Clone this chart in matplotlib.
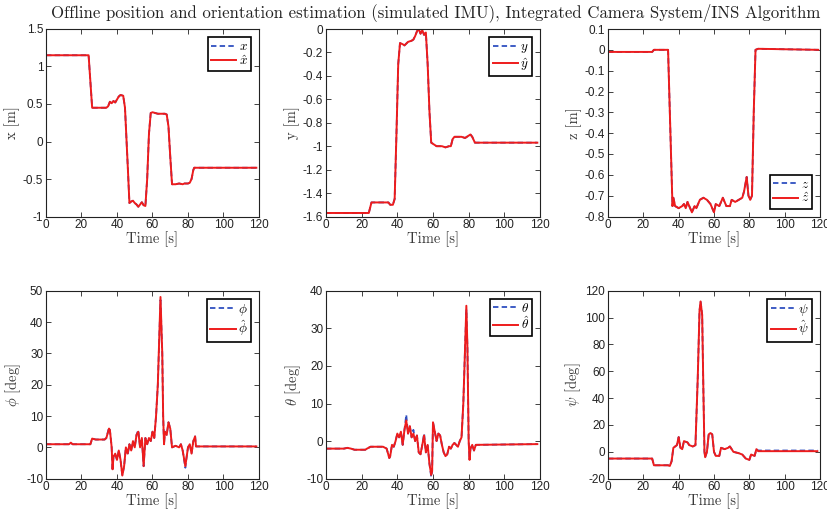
import matplotlib
matplotlib.use("Agg")
import matplotlib.pyplot as plt

plt.rcParams['mathtext.fontset'] = 'cm'
plt.rcParams['axes.unicode_minus'] = True

TITLE = "Offline position and orientation estimation (simulated IMU), Integrated Camera System/INS Algorithm"
XLABEL = "Time [s]"
XTICKS = [0, 20, 40, 60, 80, 100, 120]

# x position
x_t = [0,24,25,26,34,35,36,37,38,39,40,41,42,43.5,44.5,46,47,48,49,50,51,52,53,54,55,56,57,58,59,60,63,65,67,68,69,70,71,73,75,77,78,80,81,82,83,83.5,118.5]
x_est = [1.15,1.15,0.8,0.45,0.45,0.47,0.53,0.51,0.54,0.52,0.56,0.60,0.62,0.61,0.45,-0.3,-0.82,-0.80,-0.79,-0.82,-0.84,-0.87,-0.84,-0.81,-0.85,-0.86,-0.5,0.1,0.38,0.39,0.37,0.37,0.37,0.36,0.2,-0.2,-0.57,-0.57,-0.56,-0.57,-0.56,-0.56,-0.55,-0.5,-0.38,-0.35,-0.35]
x_true = [1.15,1.15,0.8,0.45,0.45,0.47,0.53,0.51,0.54,0.52,0.56,0.60,0.62,0.61,0.45,-0.3,-0.82,-0.80,-0.79,-0.82,-0.84,-0.87,-0.84,-0.81,-0.85,-0.86,-0.5,0.1,0.38,0.39,0.37,0.37,0.37,0.36,0.2,-0.2,-0.57,-0.57,-0.56,-0.57,-0.56,-0.56,-0.55,-0.5,-0.38,-0.35,-0.35]

# y position
y_t = [0,24,25.5,35,36,37.5,38.5,39.5,40.5,41.5,43,44,46,48,49,50,51,52,53,54,55,56,57,58,59,60,62,65,67,69,70,71,72,76,78,80,81,82,83.5,118.5]
y_est = [-1.57,-1.57,-1.48,-1.48,-1.50,-1.50,-1.45,-0.9,-0.3,-0.12,-0.13,-0.14,-0.11,-0.10,-0.09,-0.06,-0.02,0.0,-0.04,-0.01,-0.05,-0.03,-0.3,-0.7,-0.97,-0.98,-1.0,-1.0,-1.01,-1.0,-1.0,-0.94,-0.92,-0.92,-0.93,-0.91,-0.90,-0.92,-0.97,-0.97]
y_true = [-1.57,-1.57,-1.48,-1.48,-1.50,-1.50,-1.45,-0.9,-0.3,-0.12,-0.13,-0.14,-0.11,-0.10,-0.09,-0.06,-0.02,0.0,-0.04,-0.01,-0.05,-0.03,-0.3,-0.7,-0.97,-0.98,-1.0,-1.0,-1.01,-1.0,-1.0,-0.94,-0.92,-0.92,-0.93,-0.91,-0.90,-0.92,-0.97,-0.97]

# z position
z_t = [0,25,26,34,35,36.5,37,38,40,42,43,44,45,46,47.5,49,50,52,54,56,58,60,61,63,65,67,69,70,72,74,76,77,78.5,79.5,80.5,81.5,82.5,83.5,85,119]
z_est = [-0.01,-0.01,0.0,0.0,-0.3,-0.75,-0.71,-0.75,-0.76,-0.75,-0.74,-0.76,-0.73,-0.75,-0.78,-0.75,-0.76,-0.72,-0.71,-0.72,-0.74,-0.78,-0.74,-0.75,-0.71,-0.75,-0.75,-0.72,-0.73,-0.72,-0.71,-0.68,-0.61,-0.70,-0.72,-0.70,-0.3,0.0,0.005,0.0]
z_true = [-0.01,-0.01,0.0,0.0,-0.3,-0.75,-0.71,-0.75,-0.76,-0.75,-0.74,-0.76,-0.73,-0.75,-0.78,-0.75,-0.76,-0.72,-0.71,-0.72,-0.74,-0.78,-0.74,-0.75,-0.71,-0.75,-0.75,-0.72,-0.73,-0.72,-0.71,-0.68,-0.61,-0.70,-0.72,-0.70,-0.3,0.0,0.005,0.0]

# roll phi
phi_t = [0,13,14,15,25,26,28,33,34,35.5,36,37,37.5,38,39,40,41,42,43,44,45,46,47,48,49,50,51,52,53,54,55,56,57,58,59,60,61,62,63,64.5,65.5,66,66.5,67,68,69,70,71,73,75,76,77,78.5,79,80,81,82,83,84,84.5,118.5]
phi_est = [1,1,1.5,1,1,2.8,2.5,2.5,3,6,5.5,0,-7,-3,-2,-4,-1,-4,-9,-6,0,-2,1,-1,2,0,4,5,0,3,-6,3,1,3,2,5,3,10,20,48,30,10,1,5,4,8,6,0,0.5,0,1,-1,-6,-4,0,1,-2,2,3.5,0.3,0.3]
phi_true = [1,1,1.3,1,1,2.8,2.5,2.5,3,6.3,5.5,0,-7.5,-3,-2,-4,-1,-4,-9,-6,0,-2.5,1,-1,2,0,4,5.5,0,3,-6,3,1,3,2,5,3,10,20,47,30,10,1,5,4,8,6,0,0.5,0,1,-1,-6.5,-4,0,1,-2,2,3.5,0.3,0.3]

# pitch theta
th_t = [0,10,12,14,16,22,23,25,32,34,35.5,36,37,38,39,40,41,42,43,44,45,46,47,48,49,50,51,52,53,54,55,56,57,58,59,59.5,60,61,62,63,64,65,66,67,68,69,70,71,72,74,75,76,77,78,78.7,79.3,80,80.5,81,82,83,84,118.5]
th_est = [-2,-2,-1.8,-2,-2.3,-2.3,-2,-1.5,-1.5,-2,-4.5,-4,-1,-1.5,0,2,1,2.5,-1,3,5.5,2,4,1,2,0,1.5,-3,-3.5,-1,1.5,-3,-1,-6,-9,-8,5,2.5,0,2,1.5,-1,-3,-4,-3.5,-1.5,-2,-1,-0.5,-1.5,0,1,10,25,36,25,0,-5,-2,-1,-2.5,-1,-0.8]
th_true = [-2,-2,-1.8,-2,-2.3,-2.3,-2,-1.5,-1.5,-2,-4.5,-4,-1,-1.5,0,2,1,2.5,-1,3,7,2,4,1,3,0,1.5,-3,-3.5,-1,2,-3,-1,-6,-9.5,-8,5,2.5,0,2,1.5,-1,-3,-4,-3.5,-1.5,-2,-1,-0.5,-1.5,0,1,10,25,35,25,0,-5,-2,-1,-2.5,-1,-0.8]

# yaw psi
psi_t = [0,24,25,26,34,35,36,37,38,39,40,41,42,43,45,46,48,49.5,50.8,51.8,52.4,53.3,54,54.6,55,56,57,58,59,60,61,63,64,66,68,69,71,74,76,78,80,81,83,84,85,118.5]
psi_est = [-5,-5,-5,-10,-10,-10.5,-7,3,4,5,11,3,2,8,7,5,4,5,55,105,112,102,45,0,-4,0,13,14,13,0,-3,-3,3,2,3,4,0,-1,-2,-5,-6,-2,-3,2,0.5,0.5]
psi_true = [-5,-5,-5,-10,-10,-10.5,-7,3,4,5,11,3,2,8,7,5,4,5,55,105,112,102,45,0,-4,0,13,14,13,0,-3,-3,3,2,3,4,0,-1,-2,-5,-6,-2,-3,2,1.0,1.0]

panels = [
    (x_t, x_true, x_est, "x [m]", (-1, 1.5), [-1, -0.5, 0, 0.5, 1, 1.5], ["$x$", r"$\hat{x}$"], "upper right"),
    (y_t, y_true, y_est, "y [m]", (-1.6, 0), [-1.6, -1.4, -1.2, -1, -0.8, -0.6, -0.4, -0.2, 0], ["$y$", r"$\hat{y}$"], "upper right"),
    (z_t, z_true, z_est, "z [m]", (-0.8, 0.1), [-0.8, -0.7, -0.6, -0.5, -0.4, -0.3, -0.2, -0.1, 0, 0.1], ["$z$", r"$\hat{z}$"], "lower right"),
    (phi_t, phi_true, phi_est, r"$\phi$ [deg]", (-10, 50), [-10, 0, 10, 20, 30, 40, 50], [r"$\phi$", r"$\hat{\phi}$"], "upper right"),
    (th_t, th_true, th_est, r"$\theta$ [deg]", (-10, 40), [-10, 0, 10, 20, 30, 40], [r"$\theta$", r"$\hat{\theta}$"], "upper right"),
    (psi_t, psi_true, psi_est, r"$\psi$ [deg]", (-20, 120), [-20, 0, 20, 40, 60, 80, 100, 120], [r"$\psi$", r"$\hat{\psi}$"], "upper right"),
]

W, H = 828, 514
fig = plt.figure(figsize=(W / 100, H / 100), dpi=100)

cols = [(46, 259), (326, 540), (608, 820)]
rows = [(29, 216.5), (290.7, 478.7)]

label_color = '#3a3a3a'
tick_font = 'Liberation Sans'

for i, (t, tr, es, ylab, ylim, yticks, leg, loc) in enumerate(panels):
    r, c = divmod(i, 3)
    x0, x1 = cols[c]
    y0, y1 = rows[r]
    ax = fig.add_axes([x0 / W, 1 - y1 / H, (x1 - x0) / W, (y1 - y0) / H])
    l1, = ax.plot(t, tr, color='#2f4fc0', lw=1.3, ls=(0, (3, 1.8)))
    l2, = ax.plot(t, es, color='#ee1c1c', lw=1.4)
    ax.set_xlim(0, 120)
    ax.set_ylim(*ylim)
    ax.set_xticks(XTICKS)
    ax.set_yticks(yticks)
    ax.set_yticklabels([f"{v:g}" for v in yticks])
    ax.tick_params(direction='in', length=3.5, width=0.6, top=True, right=True,
                   labelsize=8.5, colors='#222222', pad=2)
    for lab in ax.get_xticklabels() + ax.get_yticklabels():
        lab.set_fontfamily(tick_font)
    for s in ax.spines.values():
        s.set_linewidth(0.8)
        s.set_color('#222222')
    ax.set_xlabel(XLABEL, fontfamily='cmr10', fontsize=10.5, color=label_color, labelpad=0)
    ax.set_ylabel(ylab, fontfamily='cmr10', fontsize=10.5, color=label_color, labelpad=2)
    lg = ax.legend([l1, l2], leg, loc=loc, fontsize=9.5, handlelength=1.9,
                   handletextpad=0.2, borderpad=0.25, labelspacing=0.05,
                   borderaxespad=0.6, fancybox=False, framealpha=1)
    lg.get_frame().set_edgecolor('black')
    lg.get_frame().set_linewidth(1.2)

fig.text(436 / W, 1 - 13 / H, TITLE, ha='center', va='center', fontfamily='cmr10',
         fontsize=12.1, color='#222222')

fig.savefig("out.png", dpi=100)
